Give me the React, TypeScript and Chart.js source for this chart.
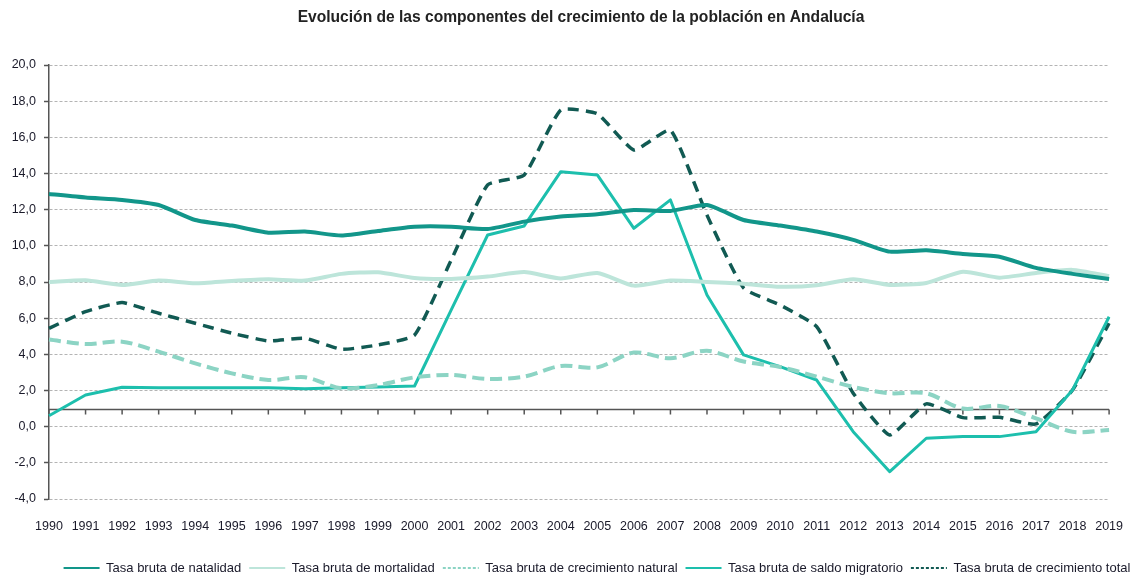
import React, { useEffect, useRef } from "react";
import { Chart, registerables } from "chart.js";

Chart.register(...registerables);

const years = ["1990","1991","1992","1993","1994","1995","1996","1997","1998","1999","2000","2001","2002","2003","2004","2005","2006","2007","2008","2009","2010","2011","2012","2013","2014","2015","2016","2017","2018","2019"];

const natalidad = [12.87,12.67,12.54,12.26,11.43,11.12,10.73,10.79,10.57,10.82,11.06,11.06,10.93,11.34,11.62,11.75,11.98,11.93,12.26,11.43,11.12,10.79,10.33,9.68,9.75,9.55,9.4,8.78,8.45,8.17];
const mortalidad = [8.0,8.1,7.84,8.08,7.93,8.06,8.15,8.08,8.45,8.54,8.22,8.17,8.3,8.55,8.2,8.5,7.8,8.08,8.0,7.9,7.74,7.82,8.15,7.84,7.95,8.57,8.24,8.5,8.67,8.33];
const crecimientoNatural = [4.82,4.57,4.7,4.15,3.5,2.95,2.58,2.73,2.12,2.3,2.73,2.86,2.64,2.77,3.36,3.28,4.1,3.78,4.2,3.6,3.3,2.77,2.2,1.85,1.85,1.0,1.14,0.46,-0.28,-0.18];
const saldoMigratorio = [0.6,1.75,2.18,2.15,2.15,2.15,2.15,2.1,2.15,2.2,2.25,6.45,10.6,11.1,14.1,13.92,10.97,12.54,7.28,3.97,3.32,2.58,-0.28,-2.49,-0.64,-0.55,-0.55,-0.28,2.03,6.08];
const crecimientoTotal = [5.44,6.36,6.86,6.27,5.72,5.17,4.74,4.89,4.28,4.52,5.07,9.2,13.37,13.92,17.51,17.3,15.3,16.4,11.7,7.67,6.73,5.53,1.85,-0.46,1.26,0.5,0.52,0.15,2.03,5.72];

const seriesNames = [
  "Tasa bruta de natalidad",
  "Tasa bruta de mortalidad",
  "Tasa bruta de crecimiento natural",
  "Tasa bruta de saldo migratorio",
  "Tasa bruta de crecimiento total",
];

const yMin = -4;
const yMax = 20;
const yStep = 2;
const xAxisCross = 1;

const FONT = '"Liberation Sans", Arial, sans-serif';
const LEGEND_FONT = 13;
const LEGEND_PAD = 8;

const axisAtValuePlugin = {
  id: "axisAtValue",
  beforeDatasetsDraw(chart: any) {
    const { ctx, chartArea, scales } = chart;
    const y = Math.round(scales.y.getPixelForValue(xAxisCross)) + 0.5;
    ctx.save();
    ctx.strokeStyle = "#555555";
    ctx.lineWidth = 1.5;
    ctx.beginPath();
    ctx.moveTo(chartArea.left, y);
    ctx.lineTo(chartArea.right, y);
    for (let i = 0; i < years.length; i++) {
      const x = scales.x.getPixelForValue(i);
      ctx.moveTo(x, y);
      ctx.lineTo(x, y + 5);
    }
    ctx.stroke();
    ctx.restore();
  },
};

const boxPlacePlugin = {
  id: "boxPlace",
  afterLayout(chart: any) {
    const lg = chart.legend;
    if (lg) {
      const dx = 36;
      const targetTop = 568 - LEGEND_PAD - LEGEND_FONT / 2;
      const dy = targetTop - lg.top;
      lg.left += dx;
      lg.right += dx;
      lg.top += dy;
      lg.bottom += dy;
    }
    const tb = chart.titleBlock;
    if (tb) {
      tb.left += 20;
      tb.right += 20;
    }
  },
};

export default function App() {
  const canvasRef = useRef<HTMLCanvasElement | null>(null);

  useEffect(() => {
    document.body.style.margin = "0";
    const canvas = canvasRef.current;
    if (!canvas) return;

    const colors = ["#12968a", "#bde5da", "#8cd4c4", "#1dbfad", "#115a53"];
    const widths = [4, 4, 4, 3, 3.5];
    const dashes: number[][] = [[], [], [12, 6], [], [11, 7]];
    const tensions = [0.2, 0.2, 0.3, 0, 0.15];
    const values = [natalidad, mortalidad, crecimientoNatural, saldoMigratorio, crecimientoTotal];

    const chart = new Chart(canvas, {
      type: "line",
      data: {
        labels: years,
        datasets: values.map((v, i) => ({
          label: seriesNames[i],
          data: v,
          borderColor: colors[i],
          backgroundColor: colors[i],
          borderWidth: widths[i],
          borderDash: dashes[i],
          tension: tensions[i],
          pointRadius: 0,
          fill: false,
          borderCapStyle: "butt",
          borderJoinStyle: "round",
        })),
      },
      options: {
        animation: false,
        responsive: false,
        layout: { padding: { left: 0, right: 21, top: 0, bottom: 6 } },
        plugins: {
          title: {
            display: true,
            text: "Evolución de las componentes del crecimiento de la población en Andalucía",
            color: "#222222",
            font: { family: FONT, size: 15.6, weight: "bold" },
            padding: { top: 8, bottom: 38.3 },
          },
          legend: {
            position: "bottom",
            labels: {
              usePointStyle: true,
              pointStyleWidth: 36,
              padding: LEGEND_PAD,
              color: "#1a1a2a",
              font: { family: FONT, size: LEGEND_FONT },
              generateLabels: () =>
                seriesNames.map((name, i) => ({
                  text: name,
                  fillStyle: colors[i],
                  strokeStyle: colors[i],
                  lineWidth: 2,
                  lineDash: dashes[i].length ? [3, 2] : [],
                  pointStyle: "line",
                  hidden: false,
                  datasetIndex: i,
                  fontColor: "#1a1a2a",
                })),
            },
          },
          tooltip: { enabled: false },
        },
        scales: {
          x: {
            grid: { display: false, drawTicks: false },
            border: { display: false },
            afterFit: (scale: any) => {
              scale.height = 40;
            },
            ticks: {
              color: "#1a1a2a",
              font: { family: FONT, size: 12.5 },
              padding: 20,
              maxRotation: 0,
              autoSkip: false,
            },
          },
          y: {
            min: yMin,
            max: yMax,
            afterFit: (scale: any) => {
              scale.width = 49;
            },
            ticks: {
              stepSize: yStep,
              color: "#1a1a2a",
              font: { family: FONT, size: 12.5 },
              padding: 8,
              callback: (v: any) => Number(v).toFixed(1).replace(".", ","),
            },
            grid: {
              color: "#b4b4b4",
              lineWidth: 1,
              tickLength: 5,
              tickColor: "#555555",
              tickWidth: 1.5,
            },
            border: { display: true, color: "#555555", width: 1.5, dash: [3, 2] },
          },
        },
      },
      plugins: [axisAtValuePlugin, boxPlacePlugin],
    });

    return () => chart.destroy();
  }, []);

  return (
    <div style={{ width: 1143, height: 576 }}>
      <canvas ref={canvasRef} width={1143} height={576} />
    </div>
  );
}
